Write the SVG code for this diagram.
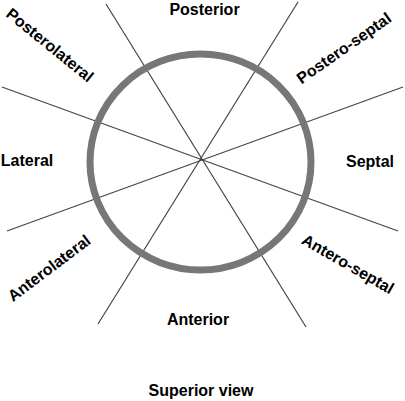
<svg xmlns="http://www.w3.org/2000/svg" width="405" height="401" viewBox="0 0 405 401">
<style>
.lbl{font-family:"Liberation Sans",Arial,sans-serif;font-weight:bold;font-size:16px;fill:#000;text-anchor:middle}
.ln{stroke:#444;stroke-width:1.2;fill:none}
</style>
<rect width="405" height="401" fill="#fff"/>
<g id="connectors">
<line class="ln" x1="106" y1="4" x2="306" y2="327"/>
<line class="ln" x1="298" y1="2" x2="98" y2="324"/>
<line class="ln" x1="2" y1="87" x2="398" y2="231"/>
<line class="ln" x1="403" y1="87" x2="7" y2="231"/>
</g>
<g id="ring">
<ellipse cx="200.5" cy="162" rx="110.5" ry="108" fill="none" stroke="#777" stroke-width="7"/>
</g>
<g id="posterior"><text class="lbl" x="204.5" y="15">Posterior</text></g>
<g id="lateral"><text class="lbl" x="27" y="166">Lateral</text></g>
<g id="septal"><text class="lbl" x="370" y="167">Septal</text></g>
<g id="anterior"><text class="lbl" x="198" y="325">Anterior</text></g>
<g id="posterolateral"><text class="lbl" transform="translate(46.5,49.4) rotate(39)">Posterolateral</text></g>
<g id="postero-septal"><text class="lbl" transform="translate(347,52.6) rotate(-35)">Postero-septal</text></g>
<g id="anterolateral"><text class="lbl" transform="translate(52.4,272.5) rotate(-37)">Anterolateral</text></g>
<g id="antero-septal"><text class="lbl" transform="translate(345.2,268.8) rotate(30)">Antero-septal</text></g>
<g id="caption"><text class="lbl" x="201" y="396">Superior view</text></g>
</svg>
